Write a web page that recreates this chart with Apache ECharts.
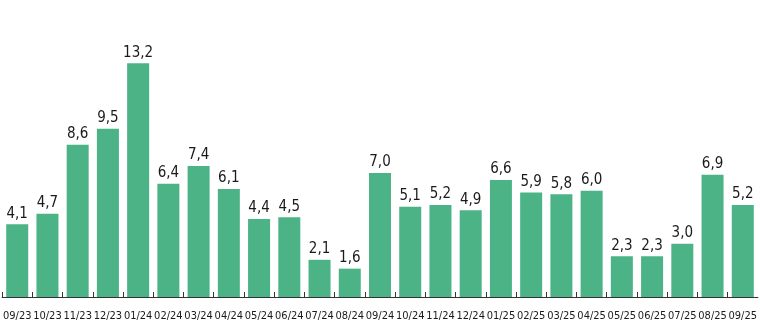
<!DOCTYPE html>
<html><head><meta charset="utf-8">
<script src="https://cdn.jsdelivr.net/npm/echarts@6/dist/echarts.min.js"></script>
<style>html,body{margin:0;padding:0;background:#fff}#c{width:760px;height:322px}</style>
</head><body><div id="c"></div>
<script>
var categories = ["09/23","10/23","11/23","12/23","01/24","02/24","03/24","04/24","05/24","06/24","07/24","08/24","09/24","10/24","11/24","12/24","01/25","02/25","03/25","04/25","05/25","06/25","07/25","08/25","09/25"];
var values = [4.1,4.7,8.6,9.5,13.2,6.4,7.4,6.1,4.4,4.5,2.1,1.6,7.0,5.1,5.2,4.9,6.6,5.9,5.8,6.0,2.3,2.3,3.0,6.9,5.2];
var FONT = '"DejaVu Sans Condensed", sans-serif';
var chart = echarts.init(document.getElementById('c'), null, {renderer:'canvas'});
chart.setOption({
  animation:false,
  grid:{left:1,right:1,top:49,bottom:25,containLabel:false},
  xAxis:{type:'category',data:categories,
    axisLine:{lineStyle:{color:'#333',width:1}},
    axisTick:{show:true,inside:true,length:5,lineStyle:{color:'#333'}},
    axisLabel:{color:'#1a1a1a',fontSize:11,fontFamily:FONT,margin:14,interval:0}},
  yAxis:{type:'value',min:0,max:14,show:false,splitLine:{show:false}},
  series:[{type:'bar',data:values,barWidth:22,
    itemStyle:{color:'#4bb385'},
    label:{show:true,position:'top',distance:3,color:'#1a1a1a',fontSize:15,fontFamily:FONT,
      formatter:function(p){return p.value.toFixed(1).replace('.',',');}}}]
});
</script></body></html>
